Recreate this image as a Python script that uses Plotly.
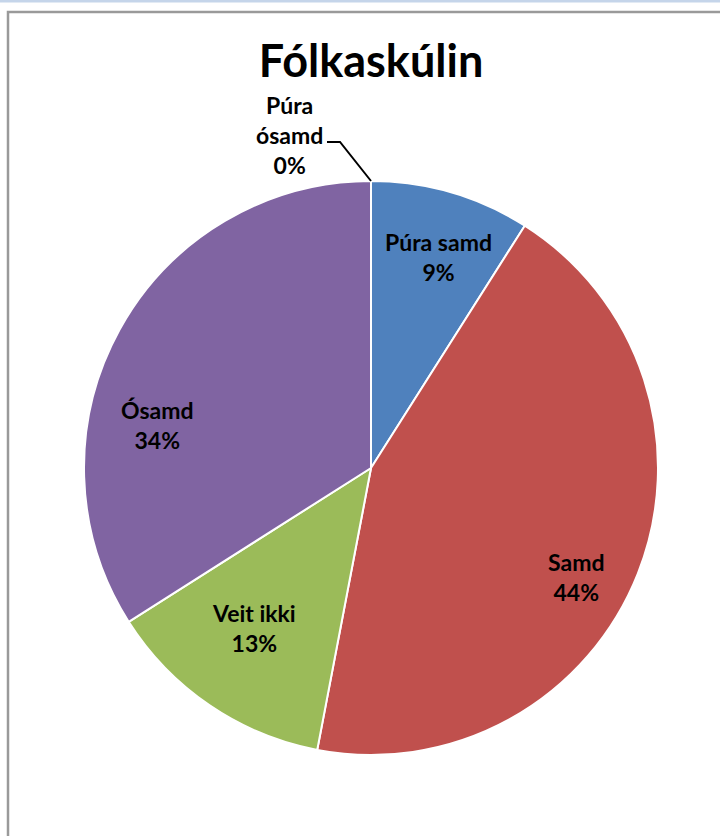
import numpy as np
import plotly.graph_objects as go

# Survey answers for "Fólkaskúlin", in percent
categories = ["Púra samd", "Samd", "Veit ikki", "Ósamd", "Púra ósamd"]
shares = [9, 44, 13, 34, 0]
colors = ["#4F81BD", "#C0504D", "#9BBB59", "#8064A2", "#F79646"]

# label placement inside each slice: (angle shift in degrees, fraction of radius)
label_nudge = [(1.5, 0.77), (6.5, 0.81), (2.0, 0.69), (-17.5, 0.76), (0, 0)]

W, H = 720, 836
FONT = "Lato, 'Open Sans', sans-serif"
LABEL_SIZE = 23

# pie area in pixels: centre and radius
cx, cy, R = 371, 468, 287
dom_x = [(cx - R) / W, (cx + R) / W]
dom_y = [(H - cy - R) / H, (H - cy + R) / H]

fig = go.Figure(
    go.Pie(
        labels=categories,
        values=shares,
        sort=False,
        direction="clockwise",
        rotation=0,
        marker=dict(colors=colors, line=dict(color="white", width=2)),
        textinfo="none",
        showlegend=False,
        domain=dict(x=dom_x, y=dom_y),
        hoverinfo="label+percent",
    )
)

# slice labels, placed from each slice's mid angle (clockwise from 12 o'clock)
vals = np.array(shares, dtype=float)
ends = np.cumsum(vals) / vals.sum() * 360.0
mids = ends - vals / vals.sum() * 180.0
for cat, v, mid, (dang, frac) in zip(categories, shares, mids, label_nudge):
    if v == 0:
        continue
    a = np.radians(mid + dang)
    px = cx + frac * R * np.sin(a)
    py = cy - frac * R * np.cos(a)
    fig.add_annotation(
        x=px / W, y=1 - py / H, xref="paper", yref="paper",
        xanchor="center", yanchor="middle",
        text=f"<b>{cat}<br>{v}%</b>", showarrow=False, align="center",
        font=dict(family=FONT, size=LABEL_SIZE, color="black"),
    )

# label of the empty slice, with a leader line to the top of the pie
zero_idx = shares.index(0)
lab_x, lab_y = 289, 135
fig.add_annotation(
    x=lab_x / W, y=1 - lab_y / H, xref="paper", yref="paper",
    xanchor="center", yanchor="middle",
    text=f"<b>{categories[zero_idx].replace(' ', '<br>')}<br>{shares[zero_idx]}%</b>",
    showarrow=False, font=dict(family=FONT, size=LABEL_SIZE, color="black"),
    align="center",
)
a0 = np.radians(ends[zero_idx - 1])
tip_x, tip_y = cx + R * np.sin(a0), cy - R * np.cos(a0)
fig.add_shape(
    type="path", xref="paper", yref="paper",
    path=f"M {327/W} {1-142/H} L {340/W} {1-142/H} L {tip_x/W} {1-tip_y/H}",
    line=dict(color="black", width=2),
)

# chart frame and window band
fig.add_shape(type="rect", xref="paper", yref="paper",
              x0=0, x1=1, y0=1 - 2.5 / H, y1=1.01,
              fillcolor="#C5D5EA", line=dict(width=0), layer="above")
fig.add_shape(type="rect", xref="paper", yref="paper",
              x0=8 / W, x1=1.02, y0=-0.02, y1=1 - 12 / H,
              line=dict(color="#9A9A9A", width=2.5), fillcolor="rgba(0,0,0,0)")

fig.update_layout(
    width=W, height=H,
    margin=dict(l=0, r=0, t=0, b=0),
    paper_bgcolor="white",
    plot_bgcolor="white",
    title=dict(text="<b>Fólkaskúlin</b>", x=371 / W, xanchor="center",
               y=1 - 61 / H, yanchor="middle",
               font=dict(family=FONT, size=45, color="black")),
)

fig.write_html("out.html")
